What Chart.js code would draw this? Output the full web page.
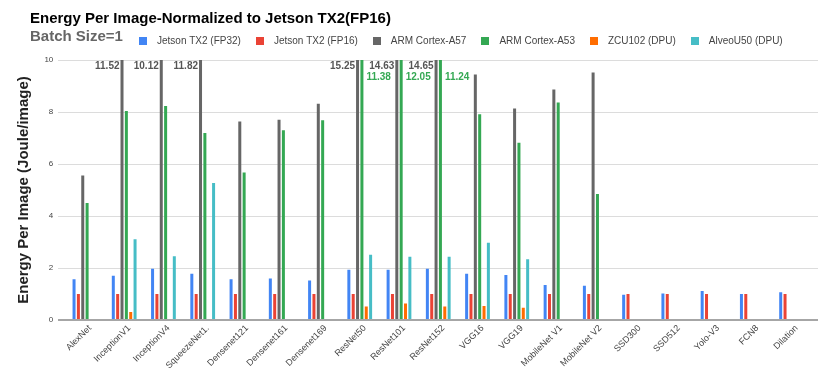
<!DOCTYPE html>
<html><head><meta charset="utf-8">
<script src="https://cdn.jsdelivr.net/npm/chart.js@4"></script>
<style>html,body{margin:0;padding:0;background:#fff}canvas{display:block}</style>
</head><body>
<canvas id="c" width="830" height="383"></canvas>
<script>
const chartTitle = 'Energy Per Image-Normalized to Jetson TX2(FP16)';
const chartSubtitle = 'Batch Size=1';
const yAxisTitle = 'Energy Per Image (Joule/image)';
const categories = ['AlexNet','InceptionV1','InceptionV4','SqueezeNet1.','Densenet121','Densenet161','Densenet169','ResNet50','ResNet101','ResNet152','VGG16','VGG19','MobileNet V1','MobileNet V2','SSD300','SSD512','Yolo-V3','FCN8','Dilation'];
const seriesNames = ['Jetson TX2 (FP32)','Jetson TX2 (FP16)','ARM Cortex-A57','ARM Cortex-A53','ZCU102 (DPU)','AlveoU50 (DPU)'];
const jetsonFP32 = [1.57,1.70,1.97,1.78,1.57,1.60,1.52,1.93,1.93,1.97,1.78,1.73,1.35,1.32,0.97,1.02,1.12,1.00,1.07];
const jetsonFP16 = [1,1,1,1,1,1,1,1,1,1,1,1,1,1,1,1,1,1,1];
const armA57 = [5.56,11.52,10.12,11.82,7.63,7.70,8.32,15.25,14.63,14.65,9.44,8.13,8.87,9.52,null,null,null,null,null];
const armA53 = [4.50,8.04,8.23,7.19,5.67,7.30,7.68,11.38,12.05,11.24,7.91,6.82,8.37,4.85,null,null,null,null,null];
const zcu102 = [null,0.31,null,null,null,null,null,0.52,0.63,0.52,0.54,0.47,null,null,null,null,null,null,null];
const alveoU50 = [null,3.11,2.45,5.27,null,null,null,2.51,2.43,2.43,2.97,2.34,null,null,null,null,null,null,null];
const yTicks = [0,2,4,6,8,10];
const colors = ['#4285F4','#EA4335','#666666','#34A853','#FF6D01','#46BDC6'];
const seriesData = [jetsonFP32, jetsonFP16, armA57, armA53, zcu102, alveoU50];

Chart.defaults.font.family = "'Liberation Sans', Arial, sans-serif";

function swatch(color){
  const cv = document.createElement('canvas');
  cv.width = 8; cv.height = 8;
  const g = cv.getContext('2d'); g.fillStyle = color; g.fillRect(0,0,8,8);
  return cv;
}
const swatches = colors.map(swatch);

const decor = {
  id: 'decor',
  beforeDraw(chart){
    const lg = chart.legend;
    if (lg) { lg.left = 124; lg.top = 26; }
    const ctx = chart.ctx;
    ctx.save();
    ctx.textAlign = 'left'; ctx.textBaseline = 'alphabetic';
    ctx.font = "bold 15px 'Liberation Sans', Arial, sans-serif";
    ctx.fillStyle = '#000';
    ctx.fillText(chartTitle, 30, 23);
    ctx.fillStyle = '#666';
    ctx.fillText(chartSubtitle, 30, 40.5);
    ctx.restore();
  },
  beforeDatasetsDraw(chart){
    const ctx = chart.ctx, y = chart.scales.y;
    ctx.save();
    ctx.fillStyle = '#dcdcdc';
    yTicks.forEach(v => { if (v === 0) return; const py = Math.round(y.getPixelForValue(v)); ctx.fillRect(58, py, 760, 1); });
    ctx.restore();
  },
  afterDatasetsDraw(chart){
    const ctx = chart.ctx, y = chart.scales.y;
    const top = y.getPixelForValue(y.max);
    ctx.save();
    ctx.fillStyle = '#a6a6a6';
    ctx.fillRect(58, Math.round(y.getPixelForValue(0)) - 1, 760, 2);
    ctx.font = "bold 10px 'Liberation Sans', Arial, sans-serif";
    ctx.textBaseline = 'alphabetic';
    [[2,'#555555','right',top + 9],[3,'#34A853','left',top + 20]].forEach(([di,col,align,by]) => {
      const meta = chart.getDatasetMeta(di);
      const vals = chart.data.datasets[di].data;
      meta.data.forEach((bar,i) => {
        const v = vals[i];
        if (v == null || v <= y.max) return;
        ctx.fillStyle = col; ctx.textAlign = align;
        const x = align === 'right' ? bar.x - bar.width/2 - 1 : bar.x + bar.width/2 + 3;
        ctx.fillText(v.toFixed(2), x, by);
      });
    });
    ctx.restore();
  }
};

new Chart(document.getElementById('c'), {
  type: 'bar',
  data: {
    labels: categories,
    datasets: seriesNames.map((name,i) => ({
      label: name,
      data: seriesData[i],
      backgroundColor: colors[i],
      borderWidth: 0,
      categoryPercentage: 0.665,
      barPercentage: 0.69
    }))
  },
  options: {
    responsive: false,
    animation: false,
    layout: { padding: { top: 30, right: 18.8, bottom: 0, left: 0 } },
    plugins: {
      title: { display: false },
      tooltip: { enabled: false },
      legend: {
        position: 'top', align: 'start',
        labels: {
          usePointStyle: true, pointStyleWidth: 18, padding: 10, color: '#444',
          font: { size: 10 },
          generateLabels: (chart) => chart.data.datasets.map((ds,i) => ({
            text: ds.label, fillStyle: ds.backgroundColor, strokeStyle: ds.backgroundColor,
            lineWidth: 0, pointStyle: swatches[i], datasetIndex: i, hidden: false, fontColor: '#444'
          }))
        }
      }
    },
    scales: {
      x: {
        offset: true,
        grid: { display: false, drawTicks: false },
        border: { display: false },
        ticks: { autoSkip: false, minRotation: 45, maxRotation: 45, padding: 3, labelOffset: 5, color: '#444', font: { size: 9 } },
        afterFit: (s) => { s.height = 63; }
      },
      y: {
        min: 0, max: 10,
        grid: { display: false, drawTicks: false },
        border: { display: false },
        ticks: { stepSize: 2, padding: 12, color: '#444', font: { size: 8 } },
        title: { display: true, text: yAxisTitle, color: '#222', font: { size: 15, weight: 'bold' }, padding: { top: 15, bottom: 0 } },
        afterFit: (s) => { s.width = 65.3; }
      }
    }
  },
  plugins: [decor]
});
</script>
</body></html>
